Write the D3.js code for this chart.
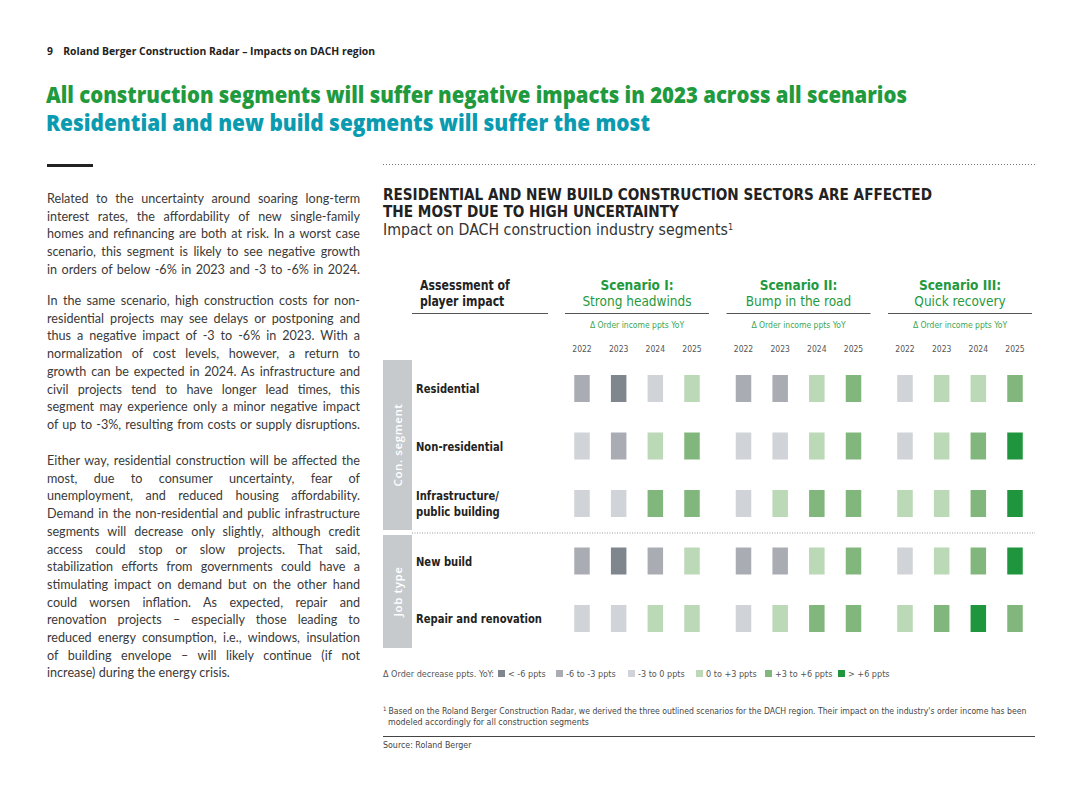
<!DOCTYPE html>
<html><head><meta charset="utf-8">
<script src="https://cdn.jsdelivr.net/npm/d3@7"></script>
<style>
html,body{margin:0;padding:0;background:#fff;}
svg{display:block;}
</style></head>
<body>
<svg id="c" width="1080" height="810"></svg>
<script>
// ---------- DATA ----------
const scenarios = ["Scenario I:", "Scenario II:", "Scenario III:"];
const scenarioSubtitles = ["Strong headwinds", "Bump in the road", "Quick recovery"];
const years = ["2022", "2023", "2024", "2025"];
const segments = ["Residential", "Non-residential", "Infrastructure/\npublic building", "New build", "Repair and renovation"];
const groups = [{name: "Con. segment", rows: [0, 2]}, {name: "Job type", rows: [3, 4]}];
// impact class: 0 "< -6", 1 "-6 to -3", 2 "-3 to 0", 3 "0 to +3", 4 "+3 to +6", 5 "> +6"
const residential     = [[1,0,2,3],[1,1,3,4],[2,3,3,4]];
const nonResidential  = [[2,1,3,4],[2,2,3,4],[2,3,4,5]];
const infrastructure  = [[2,2,4,4],[2,3,4,4],[3,3,4,5]];
const newBuild        = [[1,0,1,3],[1,1,3,4],[2,3,4,5]];
const repairRenovation= [[2,2,3,3],[2,3,4,4],[3,4,5,4]];
const classLabels = ["< -6 ppts", "-6 to -3 ppts", "-3 to 0 ppts", "0 to +3 ppts", "+3 to +6 ppts", "> +6 ppts"];
const classColors = ["#7f868d", "#a9adb3", "#d0d4d8", "#bbd8b7", "#81b77c", "#1f963d"];

const bodyParas = [
 ["Related to the uncertainty around soaring long-term",
  "interest rates, the affordability of new single-family",
  "homes and refinancing are both at risk. In a worst case",
  "scenario, this segment is likely to see negative growth",
  "in orders of below -6% in 2023 and -3 to -6% in 2024."],
 ["In the same scenario, high construction costs for non-",
  "residential projects may see delays or postponing and",
  "thus a negative impact of -3 to -6% in 2023. With a",
  "normalization of cost levels, however, a return to",
  "growth can be expected in 2024. As infrastructure and",
  "civil projects tend to have longer lead times, this",
  "segment may experience only a minor negative impact",
  "of up to -3%, resulting from costs or supply disruptions."],
 ["Either way, residential construction will be affected the",
  "most, due to consumer uncertainty, fear of",
  "unemployment, and reduced housing affordability.",
  "Demand in the non-residential and public infrastructure",
  "segments will decrease only slightly, although credit",
  "access could stop or slow projects. That said,",
  "stabilization efforts from governments could have a",
  "stimulating impact on demand but on the other hand",
  "could worsen inflation. As expected, repair and",
  "renovation projects \u2013 especially those leading to",
  "reduced energy consumption, i.e., windows, insulation",
  "of building envelope \u2013 will likely continue (if not",
  "increase) during the energy crisis."]
];
const paraEndFull = [true, true, false];
const paraStartY = [203, 305, 465];

// ---------- DRAW ----------
const svg = d3.select("#c");
const bodyFont = "Lato, 'Noto Sans', sans-serif";
const headFont = "'Open Sans', 'Noto Sans', sans-serif";
const condFont = "'Liberation Sans Narrow', 'DejaVu Sans Condensed', 'Roboto', sans-serif";

// Page header
svg.append("text").attr("x", 47).attr("y", 55).attr("font-family", headFont).attr("font-weight", 700)
  .attr("font-size", 10.5).attr("fill", "#222")
  .attr("textLength", 328).attr("lengthAdjust", "spacingAndGlyphs")
  .text("9\u2002\u2002Roland Berger Construction Radar \u2013 Impacts on DACH region");

svg.append("text").attr("x", 46).attr("y", 103).attr("font-family", headFont).attr("font-weight", 800)
  .attr("font-size", 22).attr("fill", "#1f9a3e")
  .attr("textLength", 861).attr("lengthAdjust", "spacingAndGlyphs")
  .text("All construction segments will suffer negative impacts in 2023 across all scenarios");
svg.append("text").attr("x", 46).attr("y", 131).attr("font-family", headFont).attr("font-weight", 800)
  .attr("font-size", 22).attr("fill", "#0b9bb0")
  .attr("textLength", 604).attr("lengthAdjust", "spacingAndGlyphs")
  .text("Residential and new build segments will suffer the most");

svg.append("rect").attr("x", 47).attr("y", 164).attr("width", 46).attr("height", 3).attr("fill", "#222");

// Body text (justified by word spacing)
const lh = 17.7;
const bodyW = 313;
bodyParas.forEach((p, pi) => {
  p.forEach((line, li) => {
    const t = svg.append("text").attr("x", 47).attr("y", paraStartY[pi] + li * lh)
      .attr("font-family", bodyFont).attr("font-size", 12.6).attr("fill", "#3a3a3a").text(line);
    const last = li === p.length - 1;
    if (!last || paraEndFull[pi]) {
      const w = t.node().getComputedTextLength();
      const spaces = (line.match(/ /g) || []).length;
      if (spaces > 0 && w < bodyW) t.attr("word-spacing", (bodyW - w) / spaces);
    }
  });
});

// dotted rule
svg.append("line").attr("x1", 383).attr("x2", 1035).attr("y1", 164.5).attr("y2", 164.5)
  .attr("stroke", "#777").attr("stroke-width", 1).attr("stroke-dasharray", "1,2");

// chart titles
svg.append("text").attr("x", 383).attr("y", 200).attr("font-family", condFont).attr("font-weight", 700)
  .attr("font-size", 15).attr("fill", "#222").attr("textLength", 549).attr("lengthAdjust", "spacingAndGlyphs")
  .text("RESIDENTIAL AND NEW BUILD CONSTRUCTION SECTORS ARE AFFECTED");
svg.append("text").attr("x", 383).attr("y", 217).attr("font-family", condFont).attr("font-weight", 700)
  .attr("font-size", 15).attr("fill", "#222").attr("textLength", 296).attr("lengthAdjust", "spacingAndGlyphs")
  .text("THE MOST DUE TO HIGH UNCERTAINTY");
const sub = svg.append("text").attr("x", 383).attr("y", 235).attr("font-family", condFont)
  .attr("font-size", 15).attr("fill", "#333");
sub.append("tspan").text("Impact on DACH construction industry segments").attr("textLength", 345).attr("lengthAdjust", "spacingAndGlyphs");
sub.append("tspan").attr("dy", -5).attr("font-size", 9).text("1");

// scales
const xScen = d3.scalePoint().domain(scenarios).range([637, 960]);
const xYear = d3.scalePoint().domain(years).range([-55, 55]);
const yRow = d3.scalePoint().domain(segments).range([388.5, 618.5]);
const color = d3.scaleOrdinal().domain(d3.range(6)).range(classColors);
const cellW = 15.5, cellH = 27;

// condensing helper
function condense(sel, k) {
  sel.each(function() {
    const w = this.getComputedTextLength();
    d3.select(this).attr("textLength", w * k).attr("lengthAdjust", "spacingAndGlyphs");
  });
}

// column header
const hdr = svg.append("g");
hdr.append("text").attr("x", 420).attr("y", 290).attr("font-family", condFont).attr("font-weight", 700)
  .attr("font-size", 13.5).attr("fill", "#222").text("Assessment of");
hdr.append("text").attr("x", 420).attr("y", 306).attr("font-family", condFont).attr("font-weight", 700)
  .attr("font-size", 13.5).attr("fill", "#222").text("player impact");
condense(hdr.selectAll("text"), 0.9);
svg.append("line").attr("x1", 412).attr("x2", 548).attr("y1", 313.5).attr("y2", 313.5).attr("stroke", "#555").attr("stroke-width", 1);

scenarios.forEach((s, i) => {
  const cx = xScen(s);
  svg.append("text").attr("x", cx).attr("y", 290).attr("text-anchor", "middle").attr("font-family", condFont)
    .attr("font-weight", 700).attr("font-size", 13.5).attr("fill", "#1f9a3e").text(s);
  svg.append("text").attr("x", cx).attr("y", 306).attr("text-anchor", "middle").attr("font-family", condFont)
    .attr("font-size", 13.5).attr("fill", "#1f9a3e").text(scenarioSubtitles[i]);
  svg.append("line").attr("x1", cx - 72).attr("x2", cx + 72).attr("y1", 313.5).attr("y2", 313.5)
    .attr("stroke", "#555").attr("stroke-width", 1);
  svg.append("text").attr("x", cx).attr("y", 328).attr("text-anchor", "middle").attr("font-family", condFont)
    .attr("font-size", 8.5).attr("fill", "#3aa655").text("\u0394 Order income ppts YoY");
  years.forEach(y => {
    svg.append("text").attr("x", cx + xYear(y)).attr("y", 352).attr("text-anchor", "middle")
      .attr("font-family", condFont).attr("font-size", 8.5).attr("fill", "#555").text(y);
  });
});

// group side bands
const bands = [[360, 530], [535, 648]];
groups.forEach((g, i) => {
  const [y0, y1] = bands[i];
  svg.append("rect").attr("x", 383).attr("y", y0).attr("width", 29).attr("height", y1 - y0).attr("fill", "#c6cacd");
  svg.append("text").attr("transform", `translate(402,${(y0 + y1) / 2}) rotate(-90)`)
    .attr("text-anchor", "middle").attr("font-family", headFont).attr("font-weight", 600)
    .attr("font-size", 11.5).attr("fill", "#fff").attr("letter-spacing", 0.6).text(g.name);
});
svg.append("line").attr("x1", 412).attr("x2", 1035).attr("y1", 533).attr("y2", 533)
  .attr("stroke", "#999").attr("stroke-width", 1).attr("stroke-dasharray", "1,1.5");

// row labels
const rl = svg.append("g");
segments.forEach(seg => {
  const lines = seg.split("\n");
  const y = yRow(seg);
  lines.forEach((l, k) => {
    rl.append("text").attr("x", 416).attr("y", y + 4.5 + (k - (lines.length - 1) / 2) * 16)
      .attr("font-family", condFont).attr("font-weight", 700).attr("font-size", 13).attr("fill", "#222").text(l);
  });
});
// scale so that the longest label spans like the reference
const longest = d3.max(rl.selectAll("text").nodes(), n => n.getComputedTextLength());
condense(rl.selectAll("text"), 126 / longest);

// cells
const rowData = [residential, nonResidential, infrastructure, newBuild, repairRenovation];
const cells = [];
rowData.forEach((r, ri) => r.forEach((vals, si) => vals.forEach((v, yi) =>
  cells.push({seg: segments[ri], scen: scenarios[si], year: years[yi], v}))));
svg.append("g").selectAll("rect").data(cells).join("rect")
  .attr("x", d => xScen(d.scen) + xYear(d.year) - cellW / 2)
  .attr("y", d => yRow(d.seg) - cellH / 2)
  .attr("width", cellW).attr("height", cellH)
  .attr("fill", d => color(d.v));

// legend
svg.append("text").attr("x", 383).attr("y", 677).attr("font-family", condFont).attr("font-size", 9)
  .attr("fill", "#555").text("\u0394 Order decrease ppts. YoY:");
const legX = [498, 556, 628, 696, 765, 838];
classLabels.forEach((l, i) => {
  svg.append("rect").attr("x", legX[i]).attr("y", 670).attr("width", 7).attr("height", 7).attr("fill", classColors[i]);
  svg.append("text").attr("x", legX[i] + 10).attr("y", 677).attr("font-family", condFont).attr("font-size", 9)
    .attr("fill", "#555").text(l);
});

// footnote
const fn = svg.append("text").attr("x", 383).attr("y", 714).attr("font-family", condFont).attr("font-size", 8.8).attr("fill", "#444");
fn.append("tspan").attr("font-size", 6).attr("dy", -3).text("1");
fn.append("tspan").attr("dy", 3).attr("dx", 2).attr("textLength", 638).attr("lengthAdjust", "spacingAndGlyphs")
  .text("Based on the Roland Berger Construction Radar, we derived the three outlined scenarios for the DACH region. Their impact on the industry's order income has been");
svg.append("text").attr("x", 388).attr("y", 725).attr("font-family", condFont).attr("font-size", 8.8).attr("fill", "#444")
  .text("modeled accordingly for all construction segments");
svg.append("line").attr("x1", 383).attr("x2", 1035).attr("y1", 736.5).attr("y2", 736.5).attr("stroke", "#444").attr("stroke-width", 1);
svg.append("text").attr("x", 383).attr("y", 748).attr("font-family", condFont).attr("font-size", 8.8).attr("fill", "#444")
  .text("Source: Roland Berger");
</script>
</body></html>
